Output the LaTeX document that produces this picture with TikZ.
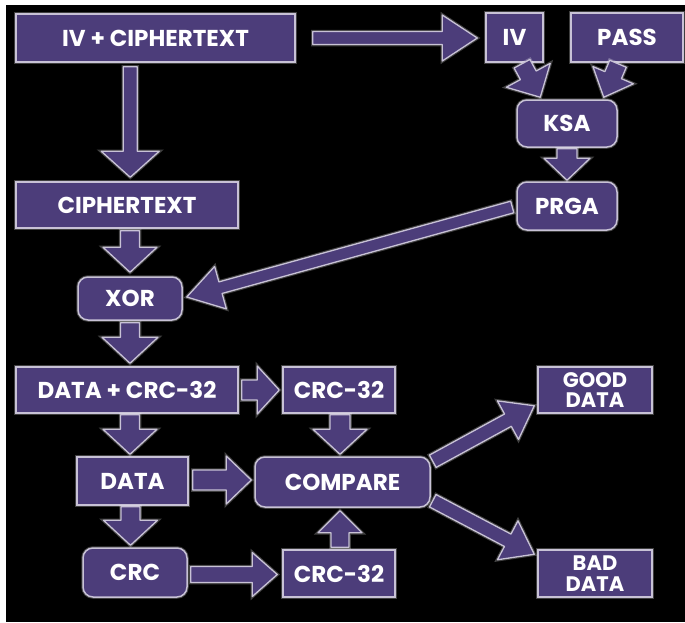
\documentclass[tikz,border=0pt]{standalone}
\usepackage{fontspec}
\setmainfont{Poppins}
\usetikzlibrary{calc}
\definecolor{boxfill}{RGB}{76,61,122}
\definecolor{edge}{RGB}{200,194,214}
\tikzset{
  glow/.style={preaction={draw=white, line width=3.5pt, opacity=0.25}},
  box/.style={draw=edge, line width=1.5pt, fill=boxfill, text=white,
    font=\bfseries\fontsize{23}{19}\selectfont, inner sep=0pt, align=center, glow},
  rbox/.style={box, rounded corners=10pt},
  twoline/.style={font=\bfseries\fontsize{21}{20.5}\selectfont},
  barrow/.style={draw=edge, line width=1.3pt, fill=boxfill, line join=round, glow}
}
\newcommand{\blockarrow}[5]{%
  \coordinate (bahead) at ($(#2)!#5!(#1)$);
  \draw[barrow] ($(#1)!#3!90:(#2)$) -- ($(bahead)!#3!90:(#2)$) -- ($(bahead)!#4!90:(#2)$)
    -- (#2) -- ($(bahead)!#4!-90:(#2)$) -- ($(bahead)!#3!-90:(#2)$) -- ($(#1)!#3!-90:(#2)$) -- cycle;}
\begin{document}
\begin{tikzpicture}[x=1pt,y=-1pt]
\useasboundingbox (0,0) rectangle (685,622);
\fill[white] (0,0) rectangle (685,622);
\fill[black] (6,5) rectangle (685,622);

% nodes
\node[box, minimum width=279pt, minimum height=48pt] (ivc) at (155.5,38) {IV + CIPHERTEXT};
\node[box, minimum width=57pt, minimum height=49pt] (iv) at (514.5,37.5) {IV};
\node[box, minimum width=112pt, minimum height=49pt] (pass) at (627,37.5) {PASS};
\node[rbox, minimum width=100pt, minimum height=47pt] (ksa) at (567,123.5) {KSA};
\node[rbox, minimum width=100pt, minimum height=48pt] (prga) at (567,206) {PRGA};
\node[box, minimum width=222pt, minimum height=46pt] (ctext) at (127,205) {CIPHERTEXT};
\node[rbox, minimum width=104pt, minimum height=43pt] (xor) at (130,298.5) {XOR};
\node[box, minimum width=222pt, minimum height=46pt] (dcrc) at (127,390) {DATA + CRC-32};
\node[box, minimum width=112pt, minimum height=46pt] (crca) at (339,390) {CRC-32};
\node[box, minimum width=111pt, minimum height=48pt] (data) at (132.5,481) {DATA};
\node[rbox, minimum width=175pt, minimum height=50pt] (compare) at (342.5,482) {COMPARE};
\node[rbox, minimum width=104pt, minimum height=49pt] (crc) at (135,572.5) {CRC};
\node[box, minimum width=112pt, minimum height=47pt] (crcb) at (339,573.5) {CRC-32};
\node[box, twoline, minimum width=114pt, minimum height=46pt] (good) at (595,390) {GOOD\\DATA};
\node[box, twoline, minimum width=114pt, minimum height=47pt] (bad) at (595,573.5) {BAD\\DATA};

% connector end points
\coordinate (a1s) at ($(ivc.east)+(17,0)$);
\coordinate (a1e) at ($(iv.west)+(-8,0.5)$);
\coordinate (a2s) at ($(ivc.south west)+(115,4)$);
\coordinate (a2e) at ($(ctext.north west)+(115,-4)$);
\coordinate (a3s) at ($(ctext.south -| xor.north)+(0,2)$);
\coordinate (a3e) at ($(xor.north)+(0,-4)$);
\coordinate (a4s) at ($(xor.south)+(0,2)$);
\coordinate (a4e) at ($(dcrc.north -| xor.south)+(0,-3)$);
\coordinate (a5s) at ($(iv.south)+(7.5,1)$);
\coordinate (a5e) at ($(ksa.north west)+(24,-2)$);
\coordinate (a6s) at ($(pass.south)+(-9,1)$);
\coordinate (a6e) at ($(ksa.north east)+(-14,-2)$);
\coordinate (a7s) at ($(ksa.south)+(0,1)$);
\coordinate (a7e) at ($(prga.north)+(0,-1)$);
\coordinate (a8s) at ($(prga.west)+(-4,1)$);
\coordinate (a8e) at ($(xor.east)+(4,-1.5)$);
\coordinate (a9s) at ($(dcrc.east)+(3,0)$);
\coordinate (a9e) at ($(crca.west)+(-3,0)$);
\coordinate (a10s) at ($(crca.south)+(1,1)$);
\coordinate (a10e) at ($(crca.south |- compare.north)+(1,-2)$);
\coordinate (a11s) at ($(dcrc.south)+(3,1)$);
\coordinate (a11e) at ($(dcrc.south |- data.north)+(3,-2)$);
\coordinate (a12s) at ($(data.east)+(4,-1)$);
\coordinate (a12e) at ($(compare.west)+(-3,-2)$);
\coordinate (a13s) at ($(data.south)+(-2,1)$);
\coordinate (a13e) at ($(data.south |- crc.north)+(-2,-2)$);
\coordinate (a14s) at ($(crc.east)+(3,2)$);
\coordinate (a14e) at ($(crcb.west)+(-5,1)$);
\coordinate (a15s) at ($(crcb.north)+(1,-2)$);
\coordinate (a15e) at ($(crcb.north |- compare.south)+(1,3)$);
\coordinate (a16s) at ($(compare.north east)+(2,5)$);
\coordinate (a16e) at ($(good.south west)+(-3,-8)$);
\coordinate (a17s) at ($(compare.south east)+(2,-7)$);
\coordinate (a17e) at ($(bad.north west)+(-3,5)$);

% block arrows: start, tip, half shaft, half head, head length
\blockarrow{a1s}{a1e}{6.5pt}{23pt}{35pt}
\blockarrow{a2s}{a2e}{7pt}{29pt}{26pt}
\blockarrow{a3s}{a3e}{9.5pt}{27pt}{25pt}
\blockarrow{a4s}{a4e}{9.5pt}{28pt}{26pt}
\blockarrow{a5s}{a5e}{9pt}{25pt}{25pt}
\blockarrow{a6s}{a6e}{9pt}{22pt}{24pt}
\blockarrow{a7s}{a7e}{10pt}{23pt}{22pt}
\blockarrow{a8s}{a8e}{6pt}{22pt}{35pt}
\blockarrow{a9s}{a9e}{10pt}{24pt}{22pt}
\blockarrow{a10s}{a10e}{10pt}{27pt}{25pt}
\blockarrow{a11s}{a11e}{9.5pt}{27pt}{25pt}
\blockarrow{a12s}{a12e}{10pt}{24pt}{25pt}
\blockarrow{a13s}{a13e}{9.5pt}{27pt}{25pt}
\blockarrow{a14s}{a14e}{8pt}{22pt}{25pt}
\blockarrow{a15s}{a15e}{9pt}{22pt}{22pt}
\blockarrow{a16s}{a16e}{7pt}{22pt}{30pt}
\blockarrow{a17s}{a17e}{7pt}{22pt}{30pt}
\end{tikzpicture}
\end{document}
